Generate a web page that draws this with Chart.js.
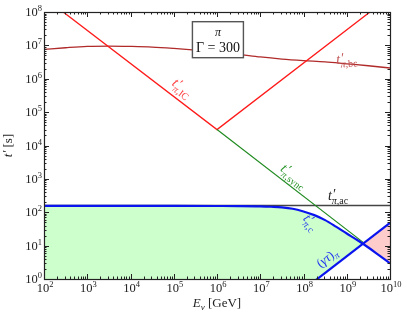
<!DOCTYPE html>
<html>
<head>
<meta charset="utf-8">
<script src="https://cdn.jsdelivr.net/npm/chart.js@4.4.0/dist/chart.umd.min.js"></script>
<style>
  html, body { margin: 0; padding: 0; background: #fff; }
  #wrap { width: 407px; height: 319px; position: relative; }
</style>
</head>
<body>
<div id="wrap"><canvas id="chart"></canvas></div>
<script>
// neutrino energy E_nu [GeV] and comoving times t' [s]
const coolE = [1e2, 1e3, 1e4, 1e5, 1e6, 3.16e6, 1e7, 1.78e7, 3.16e7, 5.62e7, 1e8, 1.78e8, 3.16e8, 5.62e8, 1e9, 1.78e9, 3.16e9, 5.62e9, 1e10];
const tCool = [155, 155, 155, 155, 154, 153, 150, 146, 140, 127, 105, 82, 58, 37, 23, 14.5, 8.8, 5.1, 2.95];

const gtE = [1e2, 1e10];
const gammaTau = [4.8e-7, 48];

const syncE = [1e6, 2.4e9];
const tSync = [3.0e4, 12.5];

const acE = [1e2, 1e10];
const tAc = [160, 160];

const icE = [1e2, 1e6, 1e10];
const tIC = [2.75e8, 3.0e4, 2.9e8];

const bcE = [1e2, 3.16e2, 1e3, 3.16e3, 1e4, 3.16e4, 1e5, 3.16e5, 1e6, 3.16e6, 1e7, 3.16e7, 1e8, 3.16e8, 1e9, 3.16e9, 1e10];
const tBc = [7.6e6, 8.5e6, 9.3e6, 9.5e6, 9.3e6, 8.9e6, 8.1e6, 7.2e6, 6.3e6, 5.4e6, 4.5e6, 3.9e6, 3.5e6, 3.2e6, 2.8e6, 2.45e6, 2.1e6];

const xTicks = [1e2, 1e3, 1e4, 1e5, 1e6, 1e7, 1e8, 1e9, 1e10];
const yTicks = [1e0, 1e1, 1e2, 1e3, 1e4, 1e5, 1e6, 1e7, 1e8];

const SERIF = '"Liberation Serif", "DejaVu Serif", serif';

function pts(xs, ys) {
  return xs.map((x, i) => ({ x: x, y: ys[i] }));
}

// runs of [text, font, dy] drawn side by side
function runWidth(ctx, parts) {
  let w = 0;
  for (const p of parts) {
    ctx.font = p[1];
    w += ctx.measureText(p[0]).width;
  }
  return w;
}
function drawRuns(ctx, parts, x, y, align) {
  const w = runWidth(ctx, parts);
  let cx = align === 'right' ? x - w : align === 'left' ? x : x - w / 2;
  ctx.textBaseline = 'alphabetic';
  ctx.textAlign = 'left';
  for (const p of parts) {
    ctx.font = p[1];
    ctx.fillText(p[0], cx, y + (p[2] || 0));
    cx += ctx.measureText(p[0]).width;
  }
}

// t'_{pi,sub} label, centred on (0,0) in the current transform
function drawTPrime(ctx, sub, size) {
  const fMain = 'italic ' + size + 'px ' + SERIF;
  const ss = Math.round(size * 0.72);
  const fSub = ss + 'px ' + SERIF;
  const fSubI = 'italic ' + ss + 'px ' + SERIF;
  ctx.font = fMain;
  const tw = ctx.measureText('t').width;
  const pw = ctx.measureText('\u2032').width;
  ctx.font = fSubI;
  const piw = ctx.measureText('\u03c0').width;
  ctx.font = fSub;
  const sw = piw + ctx.measureText(',' + sub).width;
  const total = tw + Math.max(pw, sw);
  const x0 = -total / 2;
  const base = size * 0.2;
  ctx.textBaseline = 'alphabetic';
  ctx.textAlign = 'left';
  ctx.font = fMain;
  ctx.fillText('t', x0, base);
  ctx.fillText('\u2032', x0 + tw + 0.5, base - 1);
  ctx.font = fSubI;
  ctx.fillText('\u03c0', x0 + tw, base + size * 0.3);
  ctx.font = fSub;
  ctx.fillText(',' + sub, x0 + tw + piw, base + size * 0.3);
}

function placeLabel(chart, ex, ty, angleDeg, color, draw) {
  const { ctx, scales } = chart;
  ctx.save();
  ctx.translate(scales.x.getPixelForValue(ex), scales.y.getPixelForValue(ty));
  ctx.rotate(angleDeg * Math.PI / 180);
  ctx.fillStyle = color;
  draw(ctx);
  ctx.restore();
}

const supDigits = { 0: '0', 1: '1', 2: '2', 3: '3', 4: '4', 5: '5', 6: '6', 7: '7', 8: '8', 9: '9', 10: '10' };

const decor = {
  id: 'decor',
  afterDatasetsDraw(chart) {
    const { ctx, chartArea: a, scales } = chart;
    const x = scales.x, y = scales.y;
    ctx.save();
    ctx.strokeStyle = '#222';
    ctx.lineWidth = 1;
    ctx.beginPath();
    // inward ticks on all four sides
    for (let d = 2; d < 10; d++) {
      for (let m = 1; m <= 9; m++) {
        const px = Math.round(x.getPixelForValue(m * Math.pow(10, d))) + 0.5;
        const len = m === 1 ? 5 : 2.5;
        ctx.moveTo(px, a.bottom); ctx.lineTo(px, a.bottom - len);
        ctx.moveTo(px, a.top); ctx.lineTo(px, a.top + len);
      }
    }
    for (let d = 0; d < 8; d++) {
      for (let m = 1; m <= 9; m++) {
        const py = Math.round(y.getPixelForValue(m * Math.pow(10, d))) + 0.5;
        const len = m === 1 ? 5 : 2.5;
        ctx.moveTo(a.left, py); ctx.lineTo(a.left + len, py);
        ctx.moveTo(a.right, py); ctx.lineTo(a.right - len, py);
      }
    }
    ctx.stroke();
    ctx.lineWidth = 1.2;
    ctx.strokeRect(Math.round(a.left) + 0.5, Math.round(a.top) + 0.5, Math.round(a.right - a.left), Math.round(a.bottom - a.top));
    ctx.restore();

    // curve labels
    placeLabel(chart, 1.5e5, 5.0e5, 37.7, '#ff4040', c => drawTPrime(c, 'IC', 14));
    placeLabel(chart, 5.8e7, 1.15e3, 37.7, '#2a962a', c => drawTPrime(c, 'sync', 14));
    placeLabel(chart, 6.3e8, 2.9e2, 0, '#222', c => drawTPrime(c, 'ac', 14));
    placeLabel(chart, 1.4e8, 48, 48, '#2438f0', c => drawTPrime(c, 'c', 14));
    placeLabel(chart, 1.0e9, 3.6e6, -4, '#c05050', c => drawTPrime(c, 'bc', 14));
    placeLabel(chart, 3.5e8, 4.3, -37.7, '#2438f0', c => {
      const f = 13;
      const parts = [
        ['(', f + 'px ' + SERIF, 0],
        ['\u03b3\u03c4', 'italic ' + f + 'px ' + SERIF, 0],
        [')', f + 'px ' + SERIF, 0],
        ['\u03c0', 'italic 9px ' + SERIF, 3]
      ];
      drawRuns(c, parts, 0, 4, 'center');
    });

    // annotation box
    const bx = x.getPixelForValue(1.05e6), by = y.getPixelForValue(1.48e7);
    ctx.save();
    ctx.fillStyle = '#fff';
    ctx.fillRect(bx - 25.5, by - 18, 51, 36);
    ctx.strokeStyle = '#555';
    ctx.lineWidth = 1.4;
    ctx.strokeRect(bx - 25.5, by - 18, 51, 36);
    ctx.fillStyle = '#111';
    ctx.textAlign = 'center';
    ctx.textBaseline = 'alphabetic';
    ctx.font = 'italic 12px ' + SERIF;
    ctx.fillText('\u03c0', bx, by - 4);
    ctx.font = '14px ' + SERIF;
    ctx.fillText('\u0393 = 300', bx, by + 12);
    ctx.restore();
  },
  afterDraw(chart) {
    const { ctx, chartArea: a, scales } = chart;
    ctx.save();
    ctx.fillStyle = '#222';
    const big = '12.5px ' + SERIF, small = '8.5px ' + SERIF;
    for (const v of xTicks) {
      const e = Math.round(Math.log10(v));
      drawRuns(ctx, [['10', big, 0], [supDigits[e], small, -5]], scales.x.getPixelForValue(v) + 1, a.bottom + 13, 'center');
    }
    for (const v of yTicks) {
      const e = Math.round(Math.log10(v));
      drawRuns(ctx, [['10', big, 0], [supDigits[e], small, -5]], a.left - 2, scales.y.getPixelForValue(v) + 4, 'right');
    }
    // axis titles
    drawRuns(ctx, [
      ['E', 'italic 13px ' + SERIF, 0],
      ['\u03bd', 'italic 9px ' + SERIF, 3],
      [' [GeV]', '13px ' + SERIF, 0]
    ], (a.left + a.right) / 2, a.bottom + 28, 'center');
    ctx.save();
    ctx.translate(12, (a.top + a.bottom) / 2);
    ctx.rotate(-Math.PI / 2);
    drawRuns(ctx, [
      ['t', 'italic 13px ' + SERIF, 0],
      ['\u2032', 'italic 13px ' + SERIF, -1],
      [' [s]', '13px ' + SERIF, 0]
    ], 0, 0, 'center');
    ctx.restore();
    ctx.restore();
  }
};

const lineStyle = { pointRadius: 0, fill: false, clip: 0, tension: 0 };

new Chart(document.getElementById('chart'), {
  type: 'line',
  data: {
    datasets: [
      Object.assign({}, lineStyle, {
        label: "t'_c",
        data: pts(coolE, tCool),
        borderColor: '#0a14ee',
        borderWidth: 2.2,
        cubicInterpolationMode: 'monotone',
        fill: { target: 1, above: 'rgb(204,255,204)', below: 'rgb(255,204,204)' }
      }),
      Object.assign({}, lineStyle, {
        label: '(gamma tau)',
        data: pts(gtE, gammaTau),
        borderColor: '#0a14ee',
        borderWidth: 2.2
      }),
      Object.assign({}, lineStyle, {
        label: "t'_sync",
        data: pts(syncE, tSync),
        borderColor: '#1f8a1f',
        borderWidth: 1.2
      }),
      Object.assign({}, lineStyle, {
        label: "t'_ac",
        data: pts(acE, tAc),
        borderColor: '#444',
        borderWidth: 1.4
      }),
      Object.assign({}, lineStyle, {
        label: "t'_IC",
        data: pts(icE, tIC),
        borderColor: '#ff1a1a',
        borderWidth: 1.3
      }),
      Object.assign({}, lineStyle, {
        label: "t'_bc",
        data: pts(bcE, tBc),
        borderColor: '#b02a2a',
        borderWidth: 1.3,
        cubicInterpolationMode: 'monotone'
      })
    ]
  },
  options: {
    responsive: true,
    maintainAspectRatio: false,
    animation: false,
    layout: { padding: { top: 12, right: 17, left: 0, bottom: 0 } },
    plugins: {
      legend: { display: false },
      tooltip: { enabled: false },
      filler: { drawTime: 'beforeDatasetsDraw' }
    },
    scales: {
      x: {
        type: 'logarithmic',
        min: 1e2,
        max: 1e10,
        grid: { display: false, drawTicks: false },
        border: { display: false },
        ticks: { display: false },
        afterFit(scale) { scale.height = 40; }
      },
      y: {
        type: 'logarithmic',
        min: 1,
        max: 1e8,
        grid: { display: false, drawTicks: false },
        border: { display: false },
        ticks: { display: false },
        afterFit(scale) { scale.width = 44; }
      }
    }
  },
  plugins: [decor]
});
</script>
</body>
</html>
